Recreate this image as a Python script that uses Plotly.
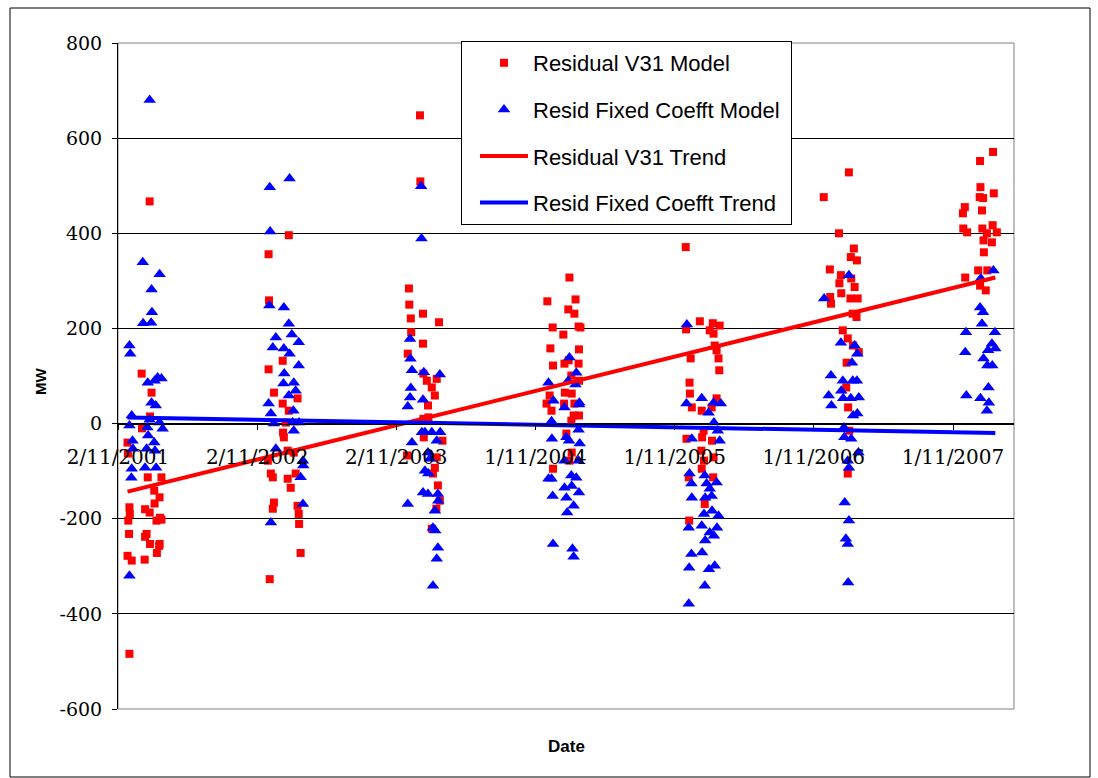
import plotly.graph_objects as go

# ---------------- data ----------------
v31_dates = [
    # 2001/02
    "2002-01-24","2002-01-03","2002-01-29","2002-01-25","2002-01-04","2001-11-27","2001-11-28","2002-01-19","2002-02-24",
    "2001-12-02","2001-12-03","2001-11-29","2001-12-01","2001-11-27","2001-12-08","2002-01-11","2002-01-12","2002-01-24",
    "2002-02-06","2002-02-19","2002-02-11","2002-02-24","2002-02-20","2002-01-16","2002-01-12","2002-02-19","2002-02-12",
    "2002-02-18","2002-01-25","2002-02-05","2001-12-02",
    # 2002/03
    "2003-01-24","2002-12-02","2002-12-03","2002-12-02","2003-01-08","2002-12-16","2003-01-08","2003-02-16","2003-01-24",
    "2003-01-16","2003-01-11","2003-01-09","2003-01-21","2003-02-06","2002-11-30","2002-12-08","2002-12-13","2003-01-21",
    "2003-01-29","2003-02-11","2002-12-16","2002-12-13","2003-02-16","2003-02-19","2003-02-20","2003-02-24","2002-12-05",
    # 2003/04
    "2004-01-03","2004-01-04","2003-12-05","2003-12-06","2003-12-10","2004-01-11","2004-02-22","2003-12-11","2004-01-11",
    "2003-12-02","2004-01-12","2004-01-21","2004-02-16","2004-02-03","2004-02-11","2004-01-24","2004-01-25","2004-01-12",
    "2004-01-13","2004-03-02","2003-11-30","2004-02-16","2004-02-11","2004-02-06","2004-02-19","2004-02-24","2004-02-15",
    "2004-02-03",
    # 2004/05
    "2005-01-29","2004-12-02","2005-02-14","2005-01-26","2005-02-11","2004-12-16","2005-02-22","2005-02-27","2005-01-13",
    "2004-12-10","2005-02-23","2004-12-17","2005-01-16","2005-01-27","2005-02-22","2005-02-03","2005-02-23","2004-12-08",
    "2005-01-17","2005-02-04","2004-11-30","2004-12-13","2005-01-15","2005-02-11","2005-02-09","2005-02-03","2005-02-23",
    "2005-01-21","2005-02-04","2005-01-29","2004-12-17",
    # 2005/06
    "2005-11-30","2005-12-01","2006-01-06","2006-02-09","2006-02-27","2006-02-01","2006-02-11","2006-02-14","2006-02-19",
    "2006-02-24","2006-02-26","2005-12-13","2005-12-10","2005-12-11","2005-12-16","2006-01-11","2006-02-06","2006-02-19",
    "2006-01-16","2006-01-12","2005-12-02","2006-02-07","2006-01-10","2006-02-11","2006-01-17","2006-01-11","2005-12-08",
    "2006-02-10","2006-01-19","2005-12-09",
    # 2006/07
    "2006-11-27","2007-02-01","2007-01-06","2007-02-14","2007-02-06","2007-02-22","2006-12-13","2007-01-11","2007-01-07",
    "2007-02-07","2007-02-16","2007-01-12","2006-12-14","2007-02-05","2007-02-24","2006-12-16","2007-02-11","2007-02-21",
    "2007-01-16","2007-01-29","2007-02-12","2007-02-27","2007-01-26","2007-01-25","2007-01-30","2007-02-02","2007-01-29",
    # 2007/08
    "2008-02-14","2008-01-11","2008-01-12","2008-01-10","2008-01-19","2008-02-16","2007-12-02","2007-11-27","2008-01-16",
    "2007-11-28","2007-12-08","2008-01-17","2008-02-13","2008-01-29","2008-02-24","2008-01-20","2008-02-11","2008-01-21",
    "2008-01-06","2008-01-30","2007-12-03","2008-01-11","2008-01-26",
]
v31_mw = [
    467, 105, 65, 15, -10, -40, -63, -113, -113,
    -176, -190, -204, -232, -278, -288, -286, -180, -187,
    -168, -155, -204, -202, -198, -232, -238, -253, -272,
    -257, -253, -141, -484,
    396, 356, 259, 114, 132, 65, 42, 53, 27,
    2, -29, -19, -57, -61, -78, -105, -113, -116,
    -135, -105, -166, -179, -173, -190, -211, -272, -327,
    648, 509, 284, 250, 221, 231, 213, 192, 168,
    147, 105, 90, 94, 76, 59, 38, 13, 10,
    -29, -36, -67, -71, -93, -105, -130, -162, -179,
    -221,
    307, 257, 261, 240, 231, 202, 204, 202, 187,
    158, 156, 122, 126, 133, 126, 101, 90, 59,
    65, 63, 42, 27, 42, 42, 17, 6, 17,
    -21, -61, -78, -95,
    371, 198, 215, 211, 206, 196, 189, 164, 154,
    137, 112, 137, 86, 63, 34, 27, 34, 53,
    -15, -29, -32, -36, -57, -71, -78, -95, -113,
    -113, -169, -204,
    476, 528, 400, 368, 350, 343, 324, 312, 295,
    305, 287, 274, 266, 263, 263, 252, 231, 224,
    196, 179, 164, 150, 128, 76, 34, -15, -105,
    571, 552, 497, 476, 474, 484, 455, 442, 448,
    410, 402, 410, 417, 400, 402, 385, 381, 360,
    322, 322, 307, 290, 280,
]

fixed_dates = [
    # 2001/02
    "2002-01-24","2002-01-06","2002-02-19","2002-01-29","2002-01-30","2002-01-07","2002-01-28","2001-12-02","2001-12-04",
    "2002-01-19","2002-02-14","2002-02-24","2002-02-06","2002-01-29","2002-02-09","2001-12-08","2001-12-02","2002-01-24",
    "2002-02-19","2002-01-18","2002-02-27","2002-01-20","2002-02-05","2002-01-16","2002-02-07","2001-12-10","2001-12-11",
    "2001-12-08","2001-12-07","2002-01-12","2002-02-10","2001-12-02",
    # 2002/03
    "2003-01-26","2002-12-05","2002-12-06","2002-12-04","2003-01-11","2003-01-24","2002-12-21","2003-02-01","2003-02-19",
    "2002-12-13","2003-01-11","2003-01-26","2003-02-19","2003-01-12","2003-02-06","2003-01-10","2003-02-11","2003-01-24",
    "2002-12-02","2003-02-05","2002-12-08","2002-12-16","2003-02-03","2003-02-20","2003-02-06","2002-12-21","2003-03-02",
    "2003-03-03","2003-02-24","2003-03-02","2002-12-08",
    # 2003/04
    "2004-01-06","2004-01-07","2003-12-08","2003-12-09","2003-12-13","2004-01-13","2004-02-24","2003-12-10","2003-12-08",
    "2004-01-11","2003-12-02","2004-01-08","2004-01-16","2004-02-03","2004-02-25","2004-02-16","2003-12-13","2004-01-24",
    "2004-01-29","2004-01-16","2004-01-25","2004-01-11","2004-01-24","2004-02-19","2003-12-02","2004-02-20","2004-02-11",
    "2004-02-06","2004-02-12","2004-02-19","2004-02-16","2004-02-06",
    # 2004/05
    "2005-01-29","2005-02-16","2004-12-05","2005-01-26","2005-02-14","2004-12-18","2005-01-16","2005-02-24","2005-02-23",
    "2004-12-13","2005-02-22","2004-12-14","2005-01-21","2005-01-28","2005-02-25","2005-01-16","2005-02-22","2004-12-05",
    "2004-12-13","2005-02-03","2005-02-16","2005-01-16","2005-02-04","2005-02-23","2004-12-16","2005-01-21","2005-02-09",
    "2005-01-23","2004-12-17","2005-02-06","2005-02-09",
    # 2005/06
    "2005-12-03","2006-01-11","2005-12-02","2006-02-11","2006-03-02","2006-01-29","2006-02-12","2006-02-22","2006-02-27",
    "2005-12-16","2006-01-19","2005-12-10","2005-12-15","2006-01-24","2006-02-19","2006-02-01","2005-12-16","2006-01-20",
    "2006-02-06","2006-01-17","2006-02-07","2006-02-24","2005-12-08","2006-01-11","2006-02-20","2006-02-01","2006-02-12",
    "2006-01-20","2005-12-15","2006-01-12","2005-12-09","2006-01-30","2006-02-14","2006-01-19","2005-12-08",
    # 2006/07
    "2007-02-01","2006-11-28","2007-01-11","2007-02-16","2007-02-23","2007-02-09","2006-12-16","2007-01-16","2007-02-11",
    "2007-02-22","2006-12-10","2007-01-12","2007-01-17","2007-02-06","2007-02-27","2006-12-17","2007-02-12","2007-02-23",
    "2007-01-19","2007-01-20","2007-02-07","2007-02-26","2007-01-29","2007-02-01","2007-01-21","2007-02-01","2007-01-24",
    "2007-01-29","2007-01-30",
    # 2007/08
    "2008-02-15","2008-01-13","2008-01-11","2008-01-19","2008-01-16","2007-12-05","2008-02-19","2007-12-03","2008-02-11",
    "2008-02-01","2008-02-20","2008-01-20","2008-01-30","2008-02-12","2008-02-02","2007-12-06","2008-01-12","2008-02-03",
    "2008-01-29",
]
fixed_mw = [
    680, 339, 314, 282, 234, 211, 212, 164, 147,
    86, 97, 95, 90, 44, 38, 17, -4, 8,
    2, -8, -11, -25, -40, -53, -57, -36, -53,
    -95, -114, -93, -93, -320,
    515, 497, 404, 248, 244, 210, 181, 187, 171,
    160, 158, 147, 122, 105, 86, 84, 69, 59,
    42, 27, 21, 0, 2, 2, -15, -53, -78,
    -88, -113, -169, -208,
    499, 389, 178, 136, 112, 108, 103, 75, 55,
    50, 36, -18, -18, -18, -18, -36, -40, -61,
    -74, -99, -105, -145, -148, -148, -169, -162, -183,
    -219, -225, -261, -284, -341,
    139, 107, 86, 90, 82, 48, 34, 44, 40,
    5, -13, -32, -29, -36, -42, -78, -78, -116,
    -116, -109, -114, -135, -131, -145, -152, -156, -173,
    -187, -253, -263, -280,
    208, 53, 42, 44, 42, 23, 2, -15, -36,
    -32, -109, -105, -126, -126, -124, -137, -156, -156,
    -152, -190, -183, -194, -219, -215, -219, -229, -236,
    -246, -274, -271, -303, -306, -299, -341, -379,
    312, 263, 170, 164, 147, 128, 101, 90, 90,
    90, 59, 69, 53, 53, 55, 38, 17, 21,
    -8, -29, -32, -61, -78, -93, -166, -204, -242,
    -253, -334,
    322, 305, 244, 234, 210, 192, 192, 150, 168,
    154, 158, 137, 122, 122, 76, 59, 53, 44,
    27,
]

trend_dates = ["2001-11-27", "2008-02-20"]
v31_trend = [-143, 307]
fixed_trend = [13, -20]

tick_dates = ["2001-11-02", "2002-11-02", "2003-11-02", "2004-11-01",
              "2005-11-01", "2006-11-01", "2007-11-01"]
tick_text = ["2/11/2001", "2/11/2002", "2/11/2003", "1/11/2004",
             "1/11/2005", "1/11/2006", "1/11/2007"]
y_ticks = [-600, -400, -200, 0, 200, 400, 600, 800]
y_tick_text = ["-600", "-400", "-200", "0", "200", "400", "600", "800"]
x_range = ["2001-11-02", "2008-04-09"]
y_range = [-600, 800]

# ---------------- figure ----------------
fig = go.Figure()
fig.add_trace(go.Scatter(x=v31_dates, y=v31_mw, mode="markers", name="Residual V31 Model",
                         legendgroup="a",
                         marker=dict(symbol="square", size=8, color="#FF0000")))
fig.add_trace(go.Scatter(x=fixed_dates, y=fixed_mw, mode="markers",
                         name="Resid Fixed Coefft Model&nbsp;",
                         legendgroup="b",
                         marker=dict(symbol="triangle-up", size=11, color="#0000FF")))
fig.add_trace(go.Scatter(x=trend_dates, y=v31_trend, mode="lines", name="Residual V31 Trend",
                         legendgroup="c",
                         line=dict(color="#FF0000", width=4)))
fig.add_trace(go.Scatter(x=trend_dates, y=fixed_trend, mode="lines", name="Resid Fixed Coefft Trend",
                         legendgroup="d",
                         line=dict(color="#0000FF", width=4)))

W, H = 1098, 778
ml, mr, mt, mb = 118, 84, 43, 69
pw, ph = W - ml - mr, H - mt - mb


def px_x(p):
    return (p - ml) / pw


def px_y(p):
    return (H - mb - p) / ph


serif = "DejaVu Serif"
sans = "Liberation Sans, Arial"

fig.update_layout(
    width=W, height=H,
    margin=dict(l=ml, r=mr, t=mt, b=mb, pad=0),
    paper_bgcolor="white", plot_bgcolor="white",
    showlegend=True,
    legend=dict(
        x=px_x(461), y=px_y(41), xanchor="left", yanchor="top",
        bgcolor="white", bordercolor="#000000", borderwidth=1,
        font=dict(family=sans, size=22, color="#000000"),
        tracegroupgap=15, traceorder="grouped",
        itemwidth=48, indentation=13,
    ),
    xaxis=dict(
        type="date", range=x_range,
        tickvals=tick_dates, ticktext=tick_text,
        tickfont=dict(family=serif, size=20, color="#000000"),
        showgrid=False, zeroline=False,
        showline=True, linecolor="#000000", linewidth=1,
        ticks="outside", ticklen=5, tickcolor="#000000",
        anchor="free", position=(0 - y_range[0]) / (y_range[1] - y_range[0]),
        ticklabelstandoff=10,
    ),
    yaxis=dict(
        range=y_range, tickvals=y_ticks, ticktext=y_tick_text,
        tickfont=dict(family=serif, size=19, color="#000000"),
        showgrid=True, gridcolor="#000000", gridwidth=1,
        zeroline=False,
        showline=True, linecolor="#000000", linewidth=1,
        ticks="outside", ticklen=5, tickcolor="#000000",
        ticklabelstandoff=6,
    ),
    shapes=[
        dict(type="rect", xref="paper", yref="paper", x0=0, x1=1, y0=0, y1=1,
             line=dict(color="#808080", width=1), layer="below"),
        dict(type="rect", xref="paper", yref="paper",
             x0=px_x(10), x1=px_x(1090), y0=px_y(777), y1=px_y(8),
             line=dict(color="#000000", width=1), layer="below"),
    ],
    annotations=[
        dict(text="<b>MW</b>", x=px_x(40), y=px_y(382), xref="paper", yref="paper",
             xanchor="center", yanchor="middle",
             showarrow=False, textangle=-90, font=dict(family=sans, size=15, color="#000000")),
        dict(text="<b>Date</b>", x=px_x(566), y=px_y(746), xref="paper", yref="paper",
             xanchor="center", yanchor="middle",
             showarrow=False, font=dict(family=sans, size=17, color="#000000")),
    ],
)

fig.write_html("out.html")
